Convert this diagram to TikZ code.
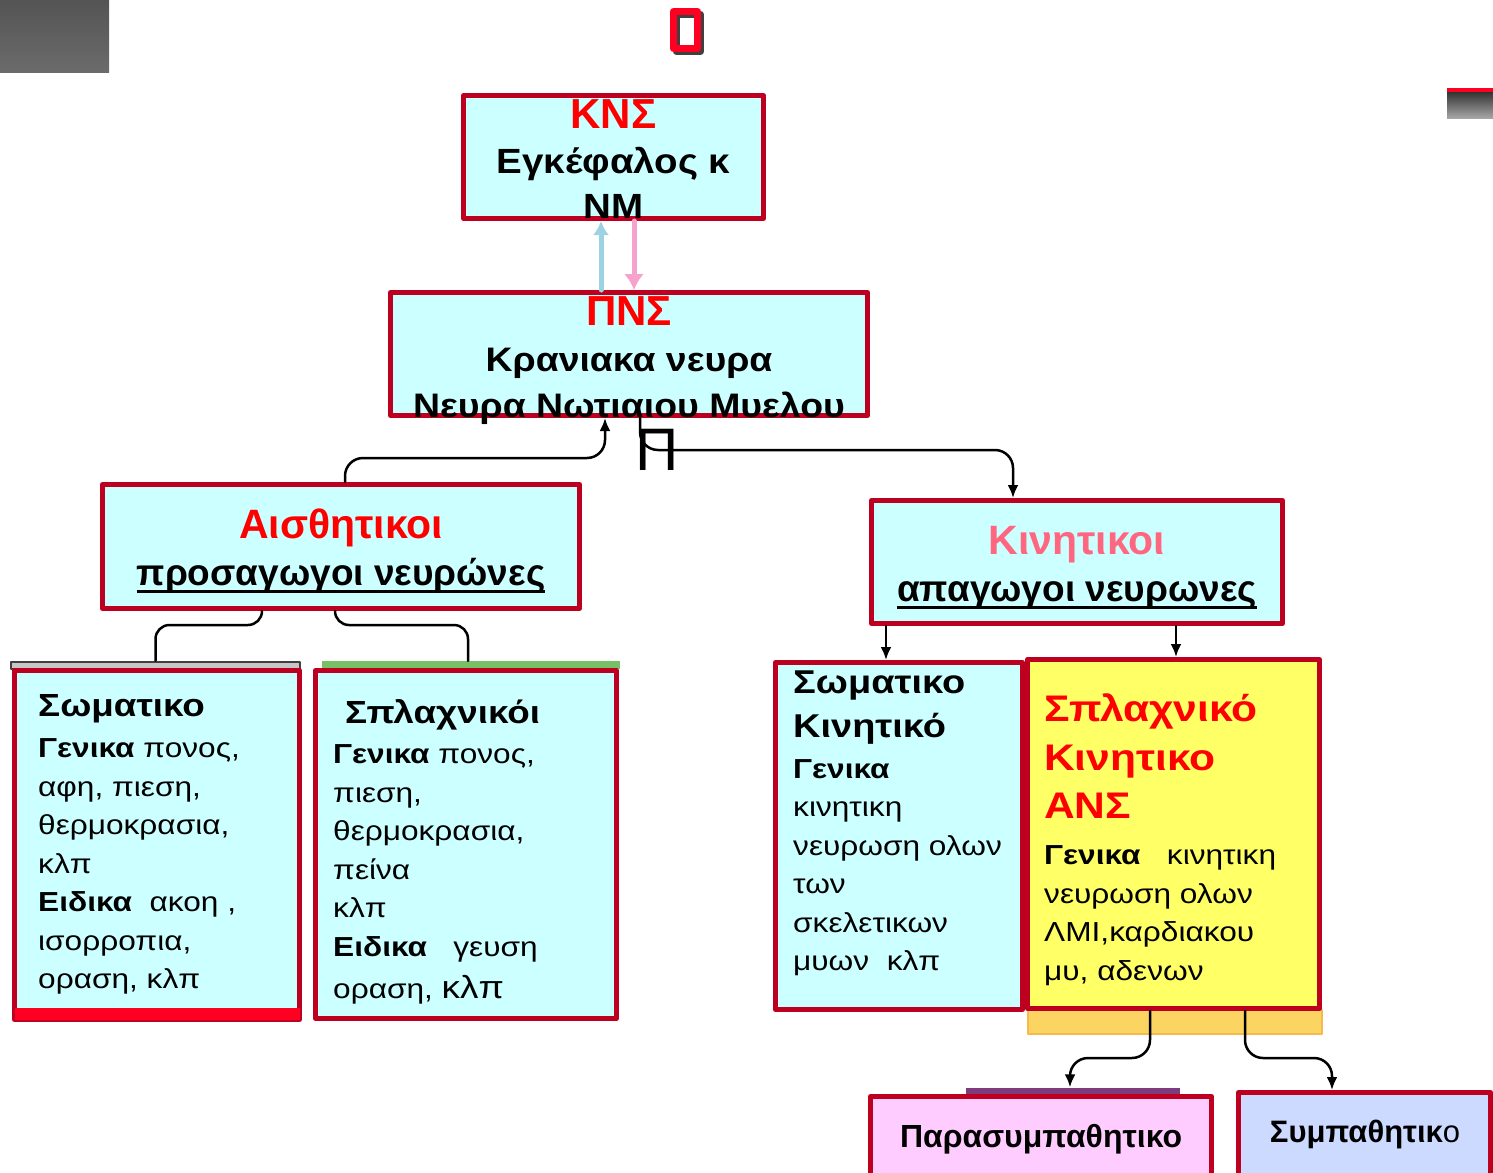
\documentclass[tikz,border=0pt]{standalone}
\usepackage{fontspec}
\setmainfont{Liberation Sans}
\newfontfamily\widesans{Liberation Sans}[FakeStretch=1.15]
\newfontfamily\midsans{Liberation Sans}[FakeStretch=1.1]
\usetikzlibrary{arrows.meta}

\definecolor{boxred}{RGB}{190,0,32}
\definecolor{titlered}{RGB}{255,0,0}
\definecolor{titlepink}{RGB}{255,102,128}
\definecolor{cyanbg}{RGB}{204,255,255}
\definecolor{yellowbg}{RGB}{255,255,102}
\definecolor{pinkbg}{RGB}{255,204,255}
\definecolor{bluebg}{RGB}{204,218,255}
\definecolor{goldbar}{RGB}{252,212,98}
\definecolor{goldedge}{RGB}{246,185,76}
\definecolor{greenbar}{RGB}{119,192,102}
\definecolor{purplebar}{RGB}{125,60,125}
\definecolor{uparrow}{RGB}{156,211,227}
\definecolor{downarrow}{RGB}{245,163,204}
\definecolor{brightred}{RGB}{255,0,34}

\newcommand\ulined[1]{\setbox0\hbox{#1}\rlap{\rule[-8pt]{\wd0}{3pt}}\box0}

\begin{document}
\begin{tikzpicture}[x=1pt,y=-1pt,>=Latex,line cap=round,line join=round]
  \tikzset{box/.style={draw=boxred,line width=5pt,fill=cyanbg,inner sep=0pt},
           bar/.style={inner sep=0pt,minimum height=7pt},
           conn/.style={line width=2.5pt,rounded corners=18pt,-{Latex[length=13pt,width=11pt]}},
           link/.style={line width=2.5pt,rounded corners=14pt},
           title/.style={font=\bfseries\fontsize{37}{47}\selectfont,align=center,anchor=base,inner sep=0pt},
           body/.style={font=\widesans\fontsize{27.5}{38.5}\selectfont,align=left,anchor=base west,inner sep=0pt}}

  \useasboundingbox (0,0) rectangle (1493,1172);

  % corner marks
  \shade[top color=black!67,bottom color=black!58] (0,0) rectangle (109,72);
  \fill[brightred] (1447,88) rectangle (1493,92);
  \shade[top color=black!80,bottom color=black!35] (1447,92) rectangle (1493,118);
  \draw[black!75,line width=7pt] (676.5,14.5) rectangle (700.5,51.5);
  \draw[brightred,line width=7pt] (673.5,11.5) rectangle (697.5,48.5);

  % bars behind the boxes
  \node[bar,draw=black!75,fill=black!22,line width=2pt,minimum width=289pt] (somaBar) at (155.5,665) {};
  \node[bar,fill=greenbar,minimum width=298pt,minimum height=8pt] (splBar) at (471,665) {};
  \node[bar,fill=goldbar,draw=goldedge,line width=2pt,minimum width=294pt,minimum height=24pt] (goldBar) at (1175,1022) {};
  \node[bar,fill=purplebar,minimum width=214pt] (paraBar) at (1073,1091) {};

  % boxes
  \node[box,minimum width=300pt,minimum height=123pt] (kns) at (613.5,157) {};
  \node[box,minimum width=477pt,minimum height=123pt] (pns) at (629,354) {};
  \node[box,minimum width=477pt,minimum height=124pt] (aisth) at (341,546.5) {};
  \node[box,minimum width=411pt,minimum height=123pt] (kin) at (1077,562) {};
  \node[box,minimum width=285pt,minimum height=349pt] (soma) at (157,845) {};
  \fill[brightred] (14.5,1008) rectangle (299.5,1019.5);
  \node[box,minimum width=301pt,minimum height=348pt] (splo) at (466,844.5) {};
  \node[box,minimum width=247pt,minimum height=347pt] (skin) at (899,836) {};
  \node[box,fill=yellowbg,minimum width=292pt,minimum height=349pt] (vkin) at (1173.5,834) {};
  \node[box,fill=pinkbg,minimum width=341pt,minimum height=85pt] (para) at (1041,1139) {};
  \node[box,fill=bluebg,minimum width=252pt,minimum height=85pt] (symp) at (1364.5,1135) {};

  % connectors
  \draw[uparrow,line width=5pt,-{Latex[length=14pt,width=16pt]}] ([xshift=-28pt]pns.north) -- ([xshift=-28pt]pns.north |- kns.south);
  \draw[downarrow,line width=5pt,-{Latex[length=16pt,width=20pt]}] ([xshift=20.5pt]kns.south) -- ([xshift=20.5pt]kns.south |- pns.north);
  \draw[conn] ([xshift=4pt]aisth.north) -- ++(0,-24) -| ([xshift=-24pt]pns.south);
  \draw[conn] ([xshift=11pt]pns.south) -- ++(0,32) -| ([xshift=-64pt]kin.north);
  \draw[link] ([xshift=-79pt]aisth.south) -- ++(0,14) -| (somaBar.north);
  \draw[link] ([xshift=-6pt]aisth.south) -- ++(0,14) -| ([xshift=-3pt]splBar.north);
  \draw[conn] ([xshift=-191pt]kin.south) -- ([xshift=-191pt]kin.south |- skin.north);
  \draw[conn] ([xshift=99pt]kin.south) -- ([xshift=99pt]kin.south |- vkin.north);
  \draw[conn] ([xshift=-23.5pt]vkin.south) -- ++(0,47) -| ([xshift=-3pt]paraBar.north);
  \draw[conn] ([xshift=71.5pt]vkin.south) -- ++(0,47) -| ([xshift=-32.5pt]symp.north);

  \node[font=\fontsize{60}{60}\selectfont,inner sep=0pt] (piMark) at (657,450) {Π};

  % texts (anchored at the baseline of their last line)
  \node[title,font=\midsans\bfseries\fontsize{35}{45}\selectfont] (knsText) at (613.5,218)
    {{\rmfamily\color{titlered}\fontsize{42}{45}\selectfont ΚΝΣ}\\Εγκέφαλος κ\\ΝΜ};
  \node[title,font=\midsans\bfseries\fontsize{34}{46}\selectfont] (pnsText) at (629,417)
    {{\rmfamily\color{titlered}\fontsize{42}{46}\selectfont ΠΝΣ}\\Κρανιακα νευρα\\Νευρα Νωτιαιου Μυελου};
  \node[title] (aisthText) at (341,585)
    {{\color{titlered}\fontsize{41}{47}\selectfont Αισθητικοι}\\\ulined{προσαγωγοι νευρώνες}};
  \node[title] (kinText) at (1077,601)
    {{\color{titlepink}\fontsize{41}{47}\selectfont Κινητικοι}\\\ulined{απαγωγοι νευρωνες}};

  \node[body] (somaText) at (38,988.5)
    {{\bfseries\fontsize{32}{38.5}\selectfont Σωματικο}\\[2.5pt]
     \textbf{Γενικα} πονος,\\αφη, πιεση,\\θερμοκρασια,\\κλπ\\
     \textbf{Ειδικα}\ \ ακοη ,\\ισορροπια,\\οραση, κλπ};
  \node[body] (sploText) at (333,998)
    {{\bfseries\fontsize{32}{38.5}\selectfont\hspace*{12pt}Σπλαχνικόι}\\[2pt]
     \textbf{Γενικα} πονος,\\πιεση,\\θερμοκρασια,\\πείνα\\κλπ\\
     \textbf{Ειδικα}\ \ \ γευση\\[3.5pt]οραση, {\fontsize{32}{38.5}\selectfont κλπ}};
  \node[body] (skinText) at (793,970.5)
    {{\bfseries\fontsize{33}{38.5}\selectfont Σωματικο}\\[5.5pt]
     {\bfseries\fontsize{33}{38.5}\selectfont Κινητικό}\\[2.5pt]
     \textbf{Γενικα}\\κινητικη\\νευρωση ολων\\των\\σκελετικων\\μυων\ \ κλπ};
  \node[body] (vkinText) at (1044,980)
    {{\color{titlered}\bfseries\fontsize{37}{38.5}\selectfont Σπλαχνικό}\\[10.5pt]
     {\color{titlered}\bfseries\fontsize{37}{38.5}\selectfont Κινητικο}\\[9.5pt]
     {\color{titlered}\bfseries\fontsize{37}{38.5}\selectfont ΑΝΣ}\\[7.5pt]
     \textbf{Γενικα}\ \ \ κινητικη\\νευρωση ολων\\ΛΜΙ,καρδιακου\\μυ, αδενων};
  \node[font=\bfseries\fontsize{32}{32}\selectfont,anchor=base,inner sep=0pt] (paraText) at (1041,1147)
    {Παρασυμπαθητικο};
  \node[font=\fontsize{31}{31}\selectfont,anchor=base,inner sep=0pt] (sympText) at (1365,1142)
    {\textbf{Συμπαθητικ}ο};
\end{tikzpicture}
\end{document}
